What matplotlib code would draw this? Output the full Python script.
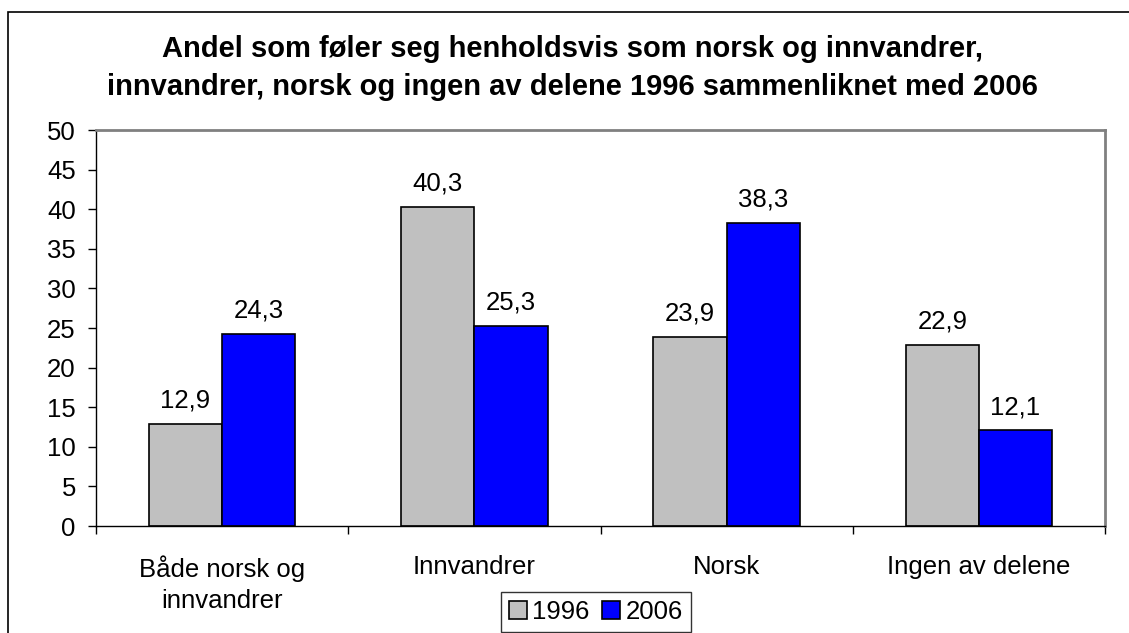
import matplotlib
matplotlib.use("Agg")
import matplotlib.pyplot as plt
from matplotlib.patches import Rectangle

categories = ["Både norsk og\ninnvandrer", "Innvandrer", "Norsk", "Ingen av delene"]
series_names = ["1996", "2006"]
values_1996 = [12.9, 40.3, 23.9, 22.9]
values_2006 = [24.3, 25.3, 38.3, 12.1]
yticks = [0, 5, 10, 15, 20, 25, 30, 35, 40, 45, 50]
title = ("Andel som føler seg henholdsvis som norsk og innvandrer,\n"
         "innvandrer, norsk og ingen av delene 1996 sammenliknet med 2006")

plt.rcParams['font.family'] = ['Liberation Sans', 'DejaVu Sans']

W, H = 1129, 633
FS = 18.5
fig = plt.figure(figsize=(W / 100, H / 100), dpi=100)
fig.patch.set_facecolor("white")

# figure border (left + top visible)
fig.add_artist(Rectangle((8 / W, -0.1), 1.2, (H - 12) / H + 0.1, transform=fig.transFigure,
                         fill=False, edgecolor="black", linewidth=1.2))

ax = fig.add_axes([96 / W, 1 - 526 / H, (1105 - 96) / W, (526 - 130) / H])
x = list(range(len(categories)))
bw = 0.29
b1 = ax.bar([i - bw / 2 for i in x], values_1996, width=bw, color="#c0c0c0",
            edgecolor="black", linewidth=1.2, label=series_names[0])
b2 = ax.bar([i + bw / 2 for i in x], values_2006, width=bw, color="#0000ff",
            edgecolor="black", linewidth=1.2, label=series_names[1])

for bars, vals in ((b1, values_1996), (b2, values_2006)):
    for r, v in zip(bars, vals):
        ax.text(r.get_x() + r.get_width() / 2, v + 1.4, f"{v:.1f}".replace(".", ","),
                ha="center", va="bottom", fontsize=FS)

ax.set_xlim(-0.5, len(categories) - 0.5)
ax.set_ylim(0, 50)
ax.set_yticks(yticks)
ax.set_yticklabels([str(t) for t in yticks], fontsize=FS)
ax.set_xticks([i - 0.5 for i in range(len(categories) + 1)])
ax.set_xticklabels([])
ax.set_xticks(x, minor=True)
ax.set_xticklabels(categories, minor=True, fontsize=FS, linespacing=1.35)
ax.tick_params(axis="x", which="minor", length=0, pad=21)
ax.tick_params(axis="x", which="major", direction="out", length=6, width=1)
ax.tick_params(axis="y", direction="out", length=6, width=1, pad=8.5)

for s in ("top", "right"):
    ax.spines[s].set_color("#808080")
    ax.spines[s].set_linewidth(2)
for s in ("left", "bottom"):
    ax.spines[s].set_color("black")
    ax.spines[s].set_linewidth(1)

fig.text(572 / W, 1 - 68 / H, title, ha="center", va="center", fontsize=21,
         fontweight="bold", linespacing=1.45)

leg = fig.legend(handles=[b1, b2], labels=series_names, loc="center",
                 bbox_to_anchor=(596 / W, 1 - 612 / H), ncol=2, frameon=True,
                 fontsize=FS, handlelength=0.7, handleheight=0.7, handletextpad=0.2,
                 columnspacing=0.5, borderpad=0.3, borderaxespad=0, fancybox=False)
leg.get_frame().set_edgecolor("black")
leg.get_frame().set_linewidth(1)

fig.savefig("out.png", dpi=100, facecolor="white")
